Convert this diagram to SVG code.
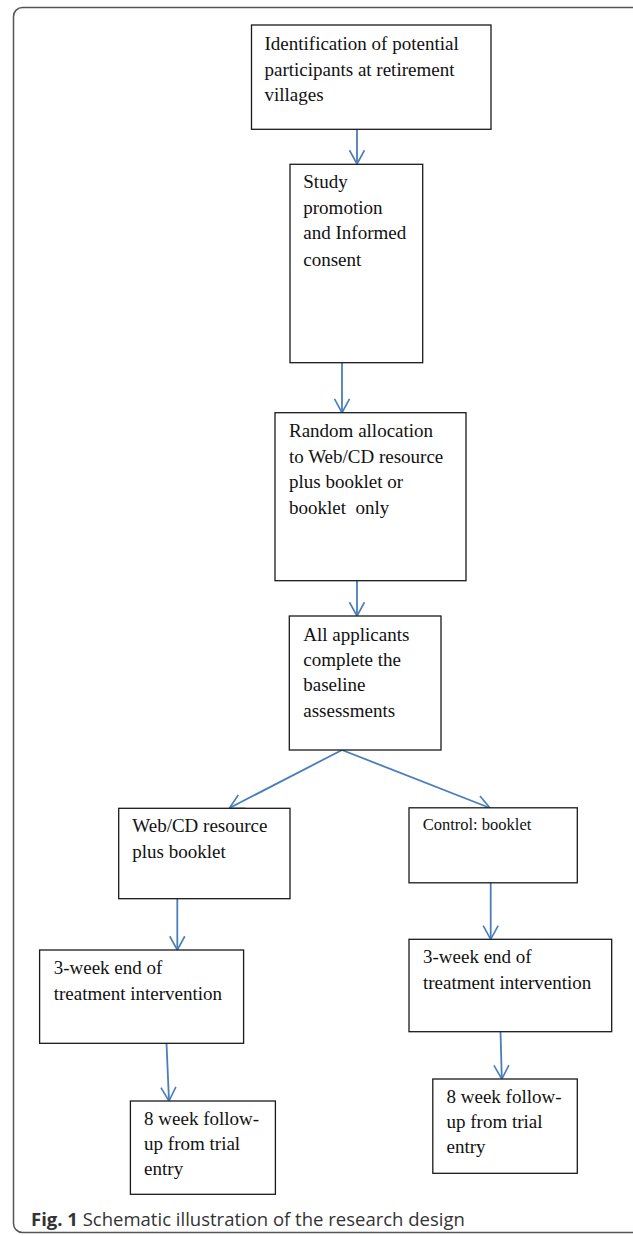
<svg xmlns="http://www.w3.org/2000/svg" width="633" height="1236" viewBox="0 0 633 1236">
<style>
.frame{fill:none;stroke:#555;stroke-width:1.5}
.box{fill:#fff;stroke:#1a1a1a;stroke-width:1.3}
.conn{fill:none;stroke:#4a7ebb;stroke-width:1.8}
</style>
<defs>
<marker id="ah" markerUnits="userSpaceOnUse" markerWidth="20" markerHeight="20" viewBox="-13 -8 15 16" refX="0" refY="0" orient="auto">
<path d="M-11,-6 L0,0 L-11,6" fill="none" stroke="#4a7ebb" stroke-width="1.3"/>
</marker>
</defs>
<rect class="frame" x="13.5" y="7.5" width="640" height="1225" rx="9"/>
<g id="connectors">
<line class="conn" x1="357" y1="129.3" x2="357" y2="164" marker-end="url(#ah)"/>
<line class="conn" x1="342" y1="362.7" x2="342" y2="412.7" marker-end="url(#ah)"/>
<line class="conn" x1="357" y1="580.7" x2="357" y2="616" marker-end="url(#ah)"/>
<line class="conn" x1="342" y1="750" x2="229.5" y2="808" stroke-width="1.3" marker-end="url(#ah)"/>
<line class="conn" x1="342" y1="750" x2="490" y2="808" stroke-width="1.3" marker-end="url(#ah)"/>
<line class="conn" x1="177.3" y1="898.7" x2="177.3" y2="950" marker-end="url(#ah)"/>
<line class="conn" x1="490.7" y1="883" x2="490.7" y2="939.3" marker-end="url(#ah)"/>
<line class="conn" x1="166.5" y1="1043.3" x2="169" y2="1101" stroke-width="1.3" marker-end="url(#ah)"/>
<line class="conn" x1="500.5" y1="1031.7" x2="501.8" y2="1079" stroke-width="1.3" marker-end="url(#ah)"/>
</g>
<g font-family="'Liberation Serif', 'Times New Roman', serif" font-size="19" fill="#111">
<g id="n1">
<rect class="box" x="251.5" y="25" width="239.5" height="104.3"/>
<text x="264.5" y="50">Identification of potential</text>
<text x="264.5" y="75.5">participants at retirement</text>
<text x="264.5" y="101">villages</text>
</g>
<g id="n2">
<rect class="box" x="290" y="164.3" width="132.7" height="198.4"/>
<text x="303.3" y="188.3">Study</text>
<text x="303.3" y="213.5">promotion</text>
<text x="303.3" y="239.3">and Informed</text>
<text x="303.3" y="265.5">consent</text>
</g>
<g id="n3">
<rect class="box" x="275" y="412.7" width="191" height="168"/>
<text x="289" y="437.3">Random allocation</text>
<text x="289" y="462.7">to Web/CD resource</text>
<text x="289" y="488.3">plus booklet or</text>
<text x="289" y="514" xml:space="preserve">booklet  only</text>
</g>
<g id="n4">
<rect class="box" x="289.3" y="616" width="151.7" height="134"/>
<text x="303.3" y="640.7">All applicants</text>
<text x="303.3" y="665.5">complete the</text>
<text x="303.3" y="690.7">baseline</text>
<text x="303.3" y="716.7">assessments</text>
</g>
<g id="n5">
<rect class="box" x="118.7" y="808.3" width="171.3" height="90.4"/>
<text x="132.3" y="831.7">Web/CD resource</text>
<text x="132.3" y="858.3">plus booklet</text>
</g>
<g id="n6">
<rect class="box" x="409" y="807.8" width="168.3" height="75"/>
<text x="422.7" y="830" font-size="16.5">Control: booklet</text>
</g>
<g id="n7">
<rect class="box" x="39.6" y="950" width="204" height="93.3"/>
<text x="53.7" y="974">3-week end of</text>
<text x="53.7" y="1000">treatment intervention</text>
</g>
<g id="n8">
<rect class="box" x="409" y="939.3" width="202.7" height="92.4"/>
<text x="423" y="963.3">3-week end of</text>
<text x="423" y="989.3">treatment intervention</text>
</g>
<g id="n9">
<rect class="box" x="130.4" y="1101" width="145" height="93.3"/>
<text x="144.1" y="1125">8 week follow-</text>
<text x="144.1" y="1150">up from trial</text>
<text x="144.1" y="1175">entry</text>
</g>
<g id="n10">
<rect class="box" x="432.8" y="1079" width="144.5" height="94.3"/>
<text x="446.5" y="1103.3">8 week follow-</text>
<text x="446.5" y="1128.3">up from trial</text>
<text x="446.5" y="1153.3">entry</text>
</g>
</g>
<text x="31" y="1225.5" font-family="'Open Sans', sans-serif" font-size="18.5" fill="#333"><tspan font-weight="bold">Fig. 1</tspan> Schematic illustration of the research design</text>
</svg>
